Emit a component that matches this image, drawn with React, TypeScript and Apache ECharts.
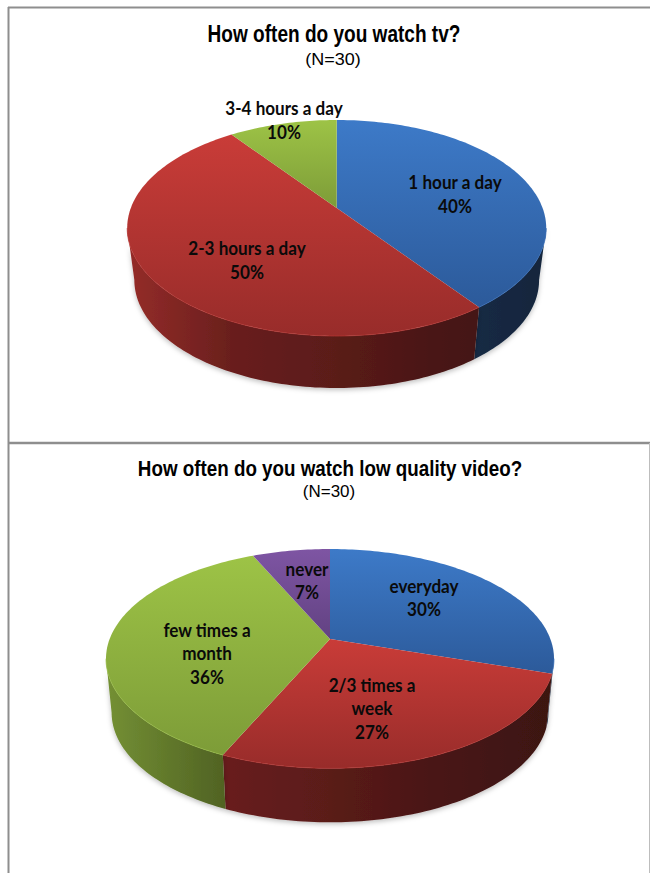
import React, { useEffect, useRef } from "react";
import * as echarts from "echarts";

const tvCategories = ["1 hour a day", "2-3 hours a day", "3-4 hours a day"];
const tvCounts = [12, 15, 3];
const tvPercents = ["40%", "50%", "10%"];

const videoCategories = ["everyday", "2/3 times a\nweek", "few times a\nmonth", "never"];
const videoCounts = [9, 8, 11, 2];
const videoPercents = ["30%", "27%", "36%", "7%"];

const tvTitle = "How often do you watch tv?";
const videoTitle = "How often do you watch low quality video?";
const subtitle = "(N=30)";

const BASE = [
  [[61, 122, 200], [44, 90, 154]],
  [[201, 60, 56], [152, 44, 42]],
  [[157, 195, 70], [125, 156, 56]],
  [[126, 85, 163], [98, 66, 130]],
];
const rgb = (c: number[], f = 1) => `rgb(${c.map((v) => Math.min(255, Math.round(v * f))).join(",")})`;

type Geo = {
  cx: number; cy: number; hw: number; up: number; down: number; depth: number; shrink: number;
  labels: number[][]; colors: number[]; lineStep: number;
};

const tvGeo: Geo = {
  cx: 336.7, cy: 208, hw: 209.5, up: 88, down: 128, depth: 52, shrink: 0.966, lineStep: 24.5,
  labels: [[455, 182], [247, 248], [284, 108]], colors: [0, 1, 2],
};
const videoGeo: Geo = {
  cx: 330, cy: 639, hw: 224, up: 90, down: 129.3, depth: 54, shrink: 0.975, lineStep: 23.3,
  labels: [[424, 586.5], [372, 685.5], [207, 630.5], [307, 569.5]], colors: [0, 1, 2, 3],
};

function projector(g: Geo) {
  const k = (g.down - g.up) / (g.down + g.up);
  const B = g.up * (1 + k);
  const A = g.hw * Math.sqrt(1 - k * k);
  const top = (t: number) => {
    const w = 1 + k * Math.cos(t);
    return [g.cx + (A * Math.sin(t)) / w, g.cy - (B * Math.cos(t)) / w];
  };
  const bottom = (t: number) => {
    const p = top(t);
    return [g.cx + (p[0] - g.cx) * g.shrink, p[1] + g.depth];
  };
  const edge = Math.acos(-k);
  return { top, bottom, edge };
}

function arc(fn: (t: number) => number[], a: number, b: number) {
  const n = Math.max(2, Math.ceil(Math.abs(b - a) / 0.02));
  const pts: number[][] = [];
  for (let i = 0; i <= n; i++) pts.push(fn(a + ((b - a) * i) / n));
  return pts;
}

function pieSeries(counts: number[], names: string[], percents: string[], g: Geo) {
  const total = counts.reduce((a, b) => a + b, 0);
  const { top, bottom, edge } = projector(g);
  const TAU = Math.PI * 2;
  return {
    type: "custom",
    coordinateSystem: "none",
    silent: true,
    clip: false,
    data: counts,
    renderItem: (params: any) => {
      const i = params.dataIndex;
      const before = counts.slice(0, i).reduce((a, b) => a + b, 0);
      const a0 = (before / total) * TAU;
      const a1 = ((before + counts[i]) / total) * TAU;
      const col = BASE[g.colors[i]];
      const children: any[] = [];

      const s0 = Math.max(a0, edge);
      const s1 = Math.min(a1, TAU - edge);
      if (s1 > s0) {
        const sidePts = [...arc(top, s0, s1), ...arc(bottom, s1, s0)];
        const base = col[0];
        children.push({
          type: "polygon",
          shape: { points: sidePts },
          style: {
            fill: new echarts.graphic.LinearGradient(
              g.cx - g.hw, 0, g.cx + g.hw, 0,
              [
                { offset: 0, color: rgb(base, 0.74) },
                { offset: 0.25, color: rgb(base, 0.52) },
                { offset: 0.5, color: rgb(base, 0.45) },
                { offset: 0.75, color: rgb(base, 0.36) },
                { offset: 1, color: rgb(base, 0.3) },
              ],
              true
            ),
            shadowBlur: 5,
            shadowColor: "rgba(0,0,0,0.25)",
            shadowOffsetY: 2,
          },
        });
      }
      const slicePts = [[g.cx, g.cy], ...arc(top, a0, a1)];
      children.push({
        type: "polygon",
        shape: { points: slicePts },
        style: {
          fill: new echarts.graphic.LinearGradient(0, 0, 0, 1, [
            { offset: 0, color: rgb(col[0]) },
            { offset: 1, color: rgb(col[1]) },
          ]),
        },
      });
      if (s1 > s0) {
        children.push({
          type: "polyline",
          shape: { points: arc(top, s0, s1) },
          style: { fill: "none", stroke: rgb(col[1], 1.2), lineWidth: 1, opacity: 0.7 },
        });
      }
      const lines = [...names[i].split("\n"), percents[i]];
      const [lx, ly] = g.labels[i];
      lines.forEach((line, j) => {
        children.push({
          type: "text",
          x: lx,
          y: ly + j * g.lineStep,
          scaleX: 0.95,
          style: {
            text: line,
            font: "bold 18px Lato",
            fill: "#0a0a0a",
            align: "center",
            verticalAlign: "middle",
          },
        });
      });
      return { type: "group", children };
    },
  };
}

const border = (x1: number, y1: number, x2: number, y2: number, stroke: string, lineWidth: number) => ({
  type: "line",
  shape: { x1, y1, x2, y2 },
  style: { stroke, lineWidth },
  silent: true,
});

const heading = (text: string, x: number, y: number, font: string, scaleX: number) => ({
  type: "text",
  x,
  y,
  scaleX,
  style: { text, font, fill: "#000", align: "center", verticalAlign: "middle" },
  silent: true,
});

export default function App() {
  const ref = useRef<HTMLDivElement>(null);
  useEffect(() => {
    const chart = echarts.init(ref.current!, null, { renderer: "svg" });
    chart.setOption({
      animation: false,
      backgroundColor: "#fff",
      graphic: [
        border(8, 7.5, 650, 7.5, "#8e8e8e", 2),
        border(8.5, 7, 8.5, 873, "#8e8e8e", 2),
        border(9, 443, 650, 443, "#8e8e8e", 2.4),
        border(649.5, 443, 649.5, 873, "#bdbdbd", 1),
        heading(tvTitle, 334, 34, "bold 23px 'Liberation Sans'", 0.828),
        heading(subtitle, 333, 59, "17px 'Liberation Sans'", 1.06),
        heading(videoTitle, 330, 468, "bold 22px 'Liberation Sans'", 0.855),
        heading(subtitle, 329, 492, "16.5px 'Liberation Sans'", 1.03),
      ],
      series: [
        pieSeries(tvCounts, tvCategories, tvPercents, tvGeo),
        pieSeries(videoCounts, videoCategories, videoPercents, videoGeo),
      ],
    });
    return () => chart.dispose();
  }, []);
  return <div ref={ref} style={{ position: "absolute", left: 0, top: 0, width: 650, height: 873 }} />;
}
